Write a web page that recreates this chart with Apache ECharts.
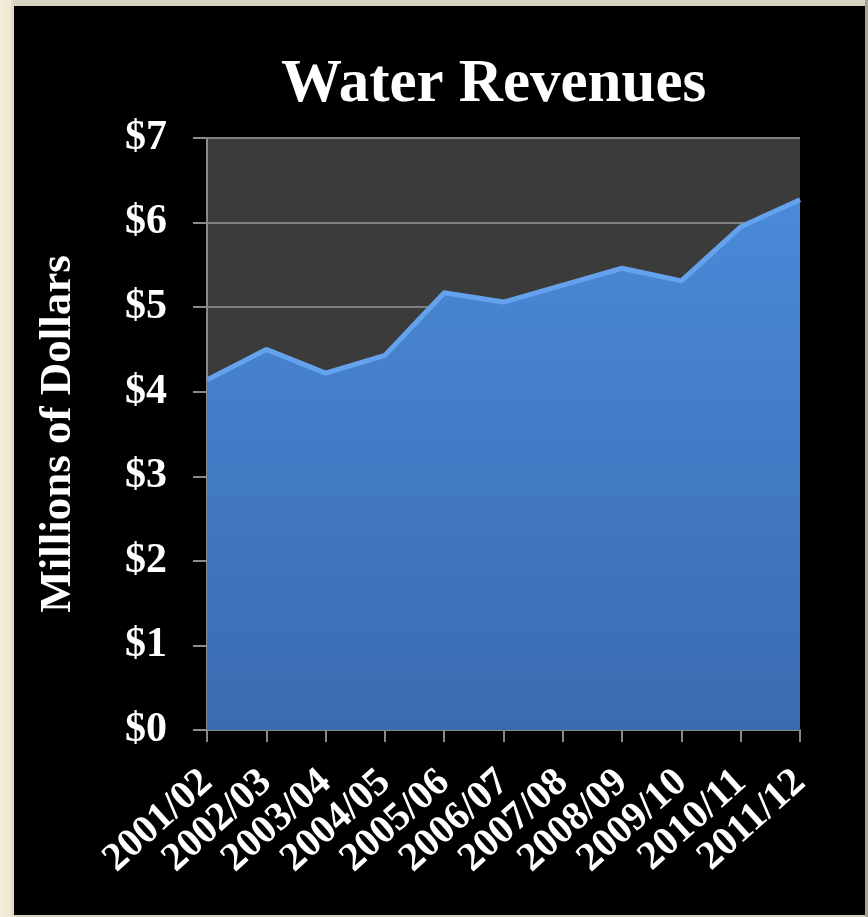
<!DOCTYPE html>
<html>
<head>
<meta charset="utf-8">
<script src="https://cdn.jsdelivr.net/npm/echarts@6/dist/echarts.min.js"></script>
<style>
  html, body { margin:0; padding:0; width:868px; height:917px; overflow:hidden;
    background: linear-gradient(90deg, #f3eedb 0px, #efe9d3 10px, #d8d2c0 14px); }
  #frame { position:absolute; left:14px; top:6px; width:851px; height:909px; background:#000; }
  #right { position:absolute; left:865px; top:0; width:3px; height:917px; background:#a8a397; }
  #chart { position:absolute; left:0; top:0; width:868px; height:917px; }
</style>
</head>
<body>
<div id="right"></div>
<div id="frame"></div>
<div id="chart"></div>
<script>
const categories = ['2001/02','2002/03','2003/04','2004/05','2005/06','2006/07','2007/08','2008/09','2009/10','2010/11','2011/12'];
const revenues = [4.14, 4.50, 4.22, 4.43, 5.17, 5.06, 5.26, 5.46, 5.31, 5.95, 6.27];
const yTicks = { min: 0, max: 7, interval: 1 };
const titleText = 'Water Revenues';
const yAxisName = 'Millions of Dollars';

const FONT = '"Liberation Serif", "DejaVu Serif", serif';
const chart = echarts.init(document.getElementById('chart'), null, { renderer: 'canvas' });
chart.setOption({
  backgroundColor: 'transparent',
  animation: false,
  title: {
    text: titleText,
    left: 276, top: 50,
    textStyle: { color: '#ffffff', fontFamily: FONT, fontWeight: 'bold', fontSize: 61 }
  },
  grid: { left: 207, right: 68, top: 138, bottom: 187, show: true, backgroundColor: '#3b3b3b', borderWidth: 0 },
  xAxis: {
    type: 'category',
    data: categories,
    boundaryGap: false,
    axisLine: { show: true, lineStyle: { color: '#8a8a8a', width: 2 } },
    axisTick: { show: true, length: 12, lineStyle: { color: '#8a8a8a', width: 2 } },
    axisLabel: { color: '#ffffff', fontFamily: FONT, fontWeight: 'bold', fontSize: 40, rotate: 42, margin: 47,
                 interval: 0, align: 'right', verticalAlign: 'middle' },
    splitLine: { show: false }
  },
  yAxis: {
    type: 'value',
    min: yTicks.min, max: yTicks.max, interval: yTicks.interval,
    name: yAxisName,
    nameLocation: 'middle',
    nameGap: 126,
    nameTextStyle: { color: '#ffffff', fontFamily: FONT, fontWeight: 'bold', fontSize: 45 },
    axisLine: { show: true, lineStyle: { color: '#8a8a8a', width: 2 } },
    axisTick: { show: true, length: 14, lineStyle: { color: '#8a8a8a', width: 2 } },
    axisLabel: { color: '#ffffff', fontFamily: FONT, fontWeight: 'bold', fontSize: 42, margin: 40, formatter: '${value}' },
    splitLine: { show: true, lineStyle: { color: '#808080', width: 2 } }
  },
  series: [{
    type: 'line',
    data: revenues,
    symbol: 'none',
    lineStyle: { color: '#64a2ee', width: 5 },
    areaStyle: {
      opacity: 1,
      color: new echarts.graphic.LinearGradient(0, 0, 0, 1, [
        { offset: 0, color: '#4a8ad8' },
        { offset: 1, color: '#3a6bb0' }
      ])
    },
    z: 3
  }]
});
</script>
</body>
</html>
